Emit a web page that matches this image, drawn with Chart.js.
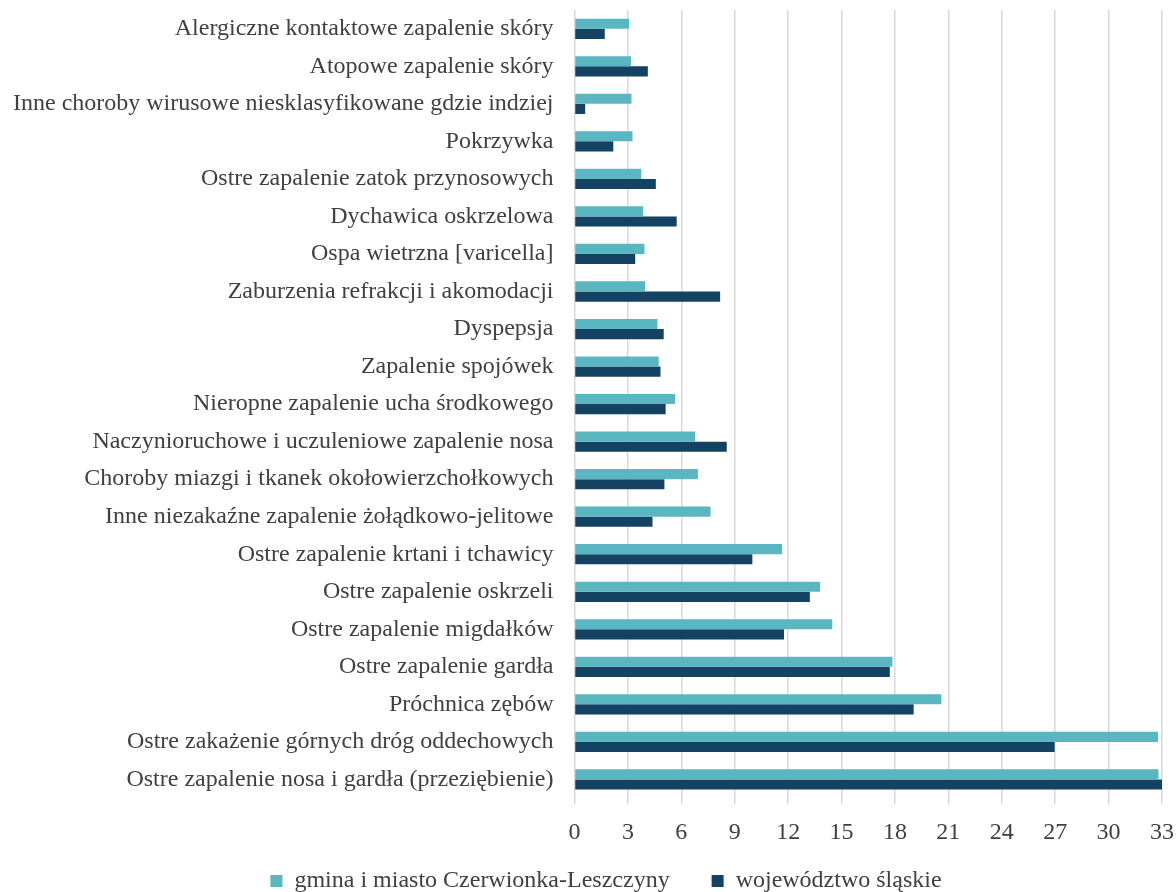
<!DOCTYPE html>
<html lang="pl">
<head>
<meta charset="utf-8">
<script src="https://cdn.jsdelivr.net/npm/chart.js@4/dist/chart.umd.min.js"></script>
<style>
  html, body { margin: 0; padding: 0; background: #fff; }
  #wrap { width: 1176px; height: 892px; position: relative; }
</style>
</head>
<body>
<div id="wrap"><canvas id="chorobyChart"></canvas></div>
<script>
// kategorie od góry do dołu
const categories = [
    'Alergiczne kontaktowe zapalenie skóry',
    'Atopowe zapalenie skóry',
    'Inne choroby wirusowe niesklasyfikowane gdzie indziej',
    'Pokrzywka',
    'Ostre zapalenie zatok przynosowych',
    'Dychawica oskrzelowa',
    'Ospa wietrzna [varicella]',
    'Zaburzenia refrakcji i akomodacji',
    'Dyspepsja',
    'Zapalenie spojówek',
    'Nieropne zapalenie ucha środkowego',
    'Naczynioruchowe i uczuleniowe zapalenie nosa',
    'Choroby miazgi i tkanek okołowierzchołkowych',
    'Inne niezakaźne zapalenie żołądkowo-jelitowe',
    'Ostre zapalenie krtani i tchawicy',
    'Ostre zapalenie oskrzeli',
    'Ostre zapalenie migdałków',
    'Ostre zapalenie gardła',
    'Próchnica zębów',
    'Ostre zakażenie górnych dróg oddechowych',
    'Ostre zapalenie nosa i gardła (przeziębienie)'
];

const gmina = [3.07, 3.17, 3.2, 3.26, 3.75, 3.86, 3.93, 3.97, 4.66, 4.73, 5.65,
               6.78, 6.93, 7.64, 11.66, 13.79, 14.48, 17.86, 20.61, 32.78, 32.8];
const wojewodztwo = [1.7, 4.12, 0.6, 2.18, 4.57, 5.74, 3.41, 8.18, 5.01, 4.83, 5.12,
                     8.55, 5.05, 4.38, 9.99, 13.22, 11.77, 17.71, 19.05, 26.97, 33.1];

const xTicks = [0, 3, 6, 9, 12, 15, 18, 21, 24, 27, 30, 33];

const seriesNames = ['gmina i miasto Czerwionka-Leszczyny', 'województwo śląskie'];
const seriesColors = ['#5ab6c0', '#144263'];

const labelFont = { family: '"Liberation Serif", "Times New Roman", serif', size: 24 };
const textColor = '#404040';

// przesunięcie legendy w prawo
const legendShift = {
    id: 'legendShift',
    afterLayout(chart) {
        chart.legend.left += 25;
        chart.legend.right += 25;
    }
};

const ctx = document.getElementById('chorobyChart').getContext('2d');
Chart.defaults.color = textColor;

const chorobyChart = new Chart(ctx, {
    type: 'bar',
    data: {
        labels: categories,
        datasets: [
            { label: seriesNames[0], data: gmina, backgroundColor: seriesColors[0], borderWidth: 0 },
            { label: seriesNames[1], data: wojewodztwo, backgroundColor: seriesColors[1], borderWidth: 0 }
        ]
    },
    plugins: [legendShift],
    options: {
        indexAxis: 'y',
        responsive: true, maintainAspectRatio: false, animation: false,
        layout: { padding: { left: 0, right: 14, top: 10, bottom: -11 } },
        datasets: { bar: { categoryPercentage: 0.54, barPercentage: 1.0 } },
        plugins: {
            tooltip: { enabled: false },
            legend: {
                position: 'bottom',
                labels: {
                    font: labelFont, color: textColor, boxWidth: 12, boxHeight: 12, padding: 0,
                    // odstęp między pozycjami legendy
                    generateLabels: (chart) => Chart.defaults.plugins.legend.labels.generateLabels(chart)
                        .map((item, i) => ({ ...item, text: i === 0 ? item.text + '       ' : item.text }))
                }
            }
        },
        scales: {
            x: {
                min: 0, max: 33,
                afterBuildTicks: (axis) => { axis.ticks = xTicks.map(v => ({ value: v })); },
                afterFit: (axis) => { axis.paddingLeft = 0; axis.paddingRight = 0; axis.height += 8; },
                ticks: { font: labelFont, color: textColor, padding: 14 },
                grid: { color: '#d9d9d9', lineWidth: 1.5, drawTicks: true, tickLength: 6 },
                border: { display: false }
            },
            y: {
                afterFit: (axis) => { axis.paddingTop = 0; axis.paddingBottom = 0; },
                ticks: { font: labelFont, color: textColor, padding: 13 },
                grid: { display: false },
                border: { display: false }
            }
        }
    }
});
</script>
</body>
</html>
